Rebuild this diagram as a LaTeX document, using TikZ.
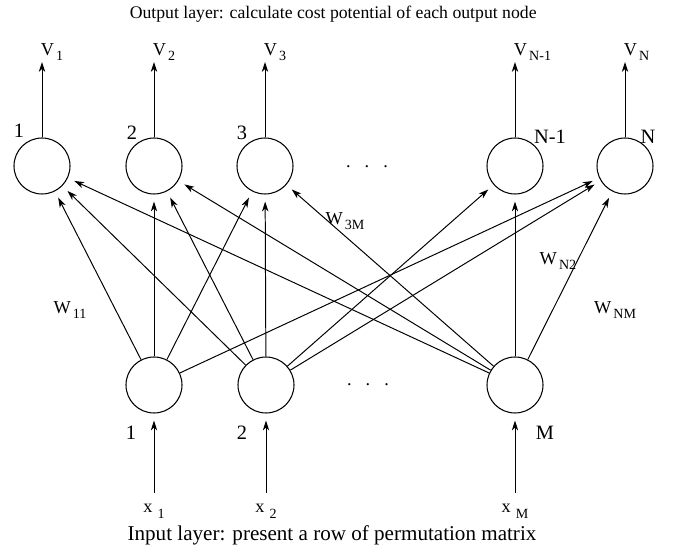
\documentclass[tikz,border=0pt]{standalone}
\usepackage{fontspec}
\setmainfont{Liberation Serif}
\usetikzlibrary{arrows.meta,positioning}

\newcommand{\subl}[3][3.5pt]{#2\kern1.5pt\raisebox{-#1}{\fontsize{10}{11}\selectfont #3}}

\begin{document}
\begin{tikzpicture}[scale=1.0,
  neuron/.style={circle,draw,line width=0.75pt,minimum size=1.4cm,inner sep=0pt},
  conn/.style={-{Stealth[length=7pt,width=4.5pt,inset=2pt]},line width=0.7pt,shorten >=5pt},
  outarr/.style={-{Stealth[length=7pt,width=4.5pt,inset=2pt]},line width=0.7pt},
  numlab/.style={font=\fontsize{14.5}{16}\selectfont,inner sep=0pt},
  wlab/.style={font=\fontsize{13}{14}\selectfont,inner sep=0pt}]
  \useasboundingbox (0,0) rectangle (16.825,13.975);
  \foreach \n/\x in {1/1.05,2/3.85,3/6.625,N1/12.875,N/15.625}{
    \node[neuron] (o\n) at (\x,9.825) {};
    \coordinate (v\n) at (\x,12.425);
    \draw[outarr] (o\n) -- (v\n);
  }
  \foreach \n/\x in {1/3.85,2/6.65,M/12.875}{
    \node[neuron] (i\n) at (\x,4.35) {};
    \coordinate (x\n) at (\x,1.65);
    \draw[conn] (x\n) -- (i\n);
  }
  \foreach \a/\b in {1/1,1/2,1/3,1/N,2/1,2/2,2/3,2/N1,2/N,M/1,M/2,M/3,M/N1,M/N}
    \draw[conn] (i\a) -- (o\b);

  \foreach \n/\s in {1/1,2/2,3/3,N1/N-1,N/N}
    \node[wlab,anchor=south west] (lv\n) at ([xshift=-1pt,yshift=1pt]v\n) {\subl{V}{\s}};
  \foreach \n in {1,2,M}
    \node[wlab,anchor=north] (lx\n) at ([yshift=-8pt]x\n) {\subl[4pt]{x\kern2pt}{\n}};

  \node[numlab] (no1) at (0.475,10.7) {1};
  \node[numlab] (no2) at (3.3,10.65) {2};
  \node[numlab] (no3) at (6.05,10.65) {3};
  \node[numlab] (noN1) at (13.75,10.55) {N-1};
  \node[numlab] (noN) at (16.2,10.55) {N};
  \node[numlab] (ni1) at (3.275,3.15) {1};
  \node[numlab] (ni2) at (6.05,3.15) {2};
  \node[numlab] (niM) at (13.625,3.15) {M};

  \node[wlab] (w11) at (1.75,6.225) {\subl[4pt]{W}{11}};
  \node[wlab] (w3M) at (8.625,8.45) {\subl{W}{3M}};
  \node[wlab] (wN2) at (13.95,7.45) {\subl{W}{N2}};
  \node[wlab] (wNM) at (15.375,6.225) {\subl{W}{NM}};

  \node[inner sep=0pt,font=\fontsize{13}{14}\selectfont] (dotso) at (9.175,9.8) {.\hspace{10pt}.\hspace{10pt}.};
  \node[inner sep=0pt,font=\fontsize{13}{14}\selectfont] (dotsi) at (9.2,4.35) {.\hspace{10pt}.\hspace{10pt}.};

  \node[font=\fontsize{12.6}{14}\selectfont,anchor=base] (outtitle) at (8.33,13.5)
    {Output layer: calculate cost potential of each output node};
  \node[font=\fontsize{15}{17}\selectfont,anchor=base] (intitle) at (8.3,0.45)
    {Input layer: present a row of permutation matrix};
\end{tikzpicture}
\end{document}
